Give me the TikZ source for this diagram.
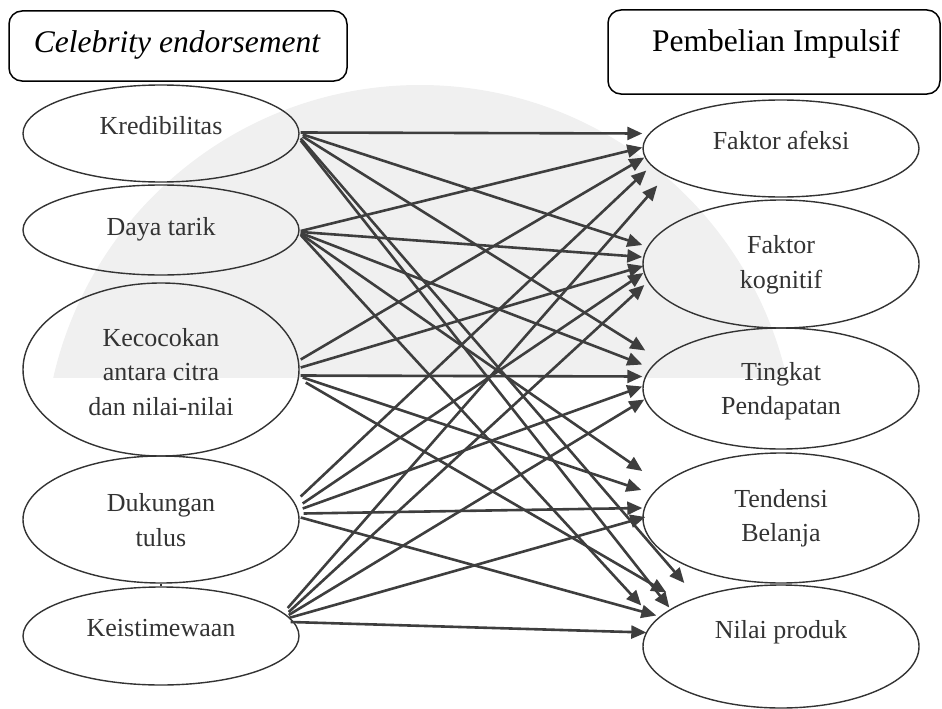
\documentclass[tikz,border=0pt]{standalone}
\usepackage{fontspec}
\setmainfont{Liberation Serif}
\usetikzlibrary{shapes.geometric,arrows.meta,calc}
\definecolor{arr}{HTML}{3E3E3E}
\definecolor{edgec}{HTML}{333333}
\definecolor{wm}{HTML}{F0F0F0}
\begin{document}
\begin{tikzpicture}[x=1pt,y=-1pt,
  oval/.style={ellipse, draw=edgec, line width=1.4pt, minimum width=276pt, inner sep=0pt},
  lbl/.style={font=\fontsize{26}{34.5}\selectfont, text=edgec, align=center, inner sep=0pt},
  ttl/.style={font=\fontsize{31.5}{36}\selectfont, inner sep=0pt},
  tbox/.style={draw=black, line width=1.5pt, rounded corners=13pt},
  link/.style={draw=arr, line width=2.6pt, -{Triangle[length=15pt,width=13pt]}}]
\useasboundingbox (0,0) rectangle (942,709);
% faint watermark background
\begin{scope}
  \clip (0,0) rectangle (942,377);
  \fill[wm] (420,461) circle [radius=376];
\end{scope}
% title boxes
\node[tbox, minimum width=338pt, minimum height=70pt] (lbox) at (178,46) {};
\node[ttl, font=\fontsize{31.5}{36}\selectfont\itshape] (ltitle) at (177,45) {Celebrity endorsement};
\node[tbox, minimum width=332pt, minimum height=84pt] (rbox) at (774,52) {};
\node[ttl] (rtitle) at (776,44) {Pembelian Impulsif};
% left ellipses
\node[oval, minimum height=97pt] (k) at (161,133.5) {};
\node[oval, minimum height=90pt] (d) at (161,230) {};
\node[oval, minimum height=173pt] (c) at (161,369.5) {};
\node[oval, minimum height=127pt] (u) at (161,519.5) {};
\node[oval, minimum height=98pt] (s) at (161,636) {};
% right ellipses
\node[oval, minimum height=97pt] (fa) at (781,148.5) {};
\node[oval, minimum height=128pt] (fk) at (781,264) {};
\node[oval, minimum height=121pt] (tp) at (781,388.5) {};
\node[oval, minimum height=130pt] (tb) at (781,518) {};
\node[oval, minimum height=123pt] (np) at (781,646.5) {};
% labels
\node[lbl] (kt) at (161,126) {Kredibilitas};
\node[lbl] (dt) at (161,229) {Daya tarik};
\node[lbl] (ct) at (161,372) {Kecocokan\\antara citra\\dan nilai-nilai};
\node[lbl] (ut) at (161,520) {Dukungan\\tulus};
\node[lbl] (st) at (161,628) {Keistimewaan};
\node[lbl] (fat) at (781,140) {Faktor afeksi};
\node[lbl] (fkt) at (781,265) {Faktor\\kognitif};
\node[lbl] (tpt) at (781,391) {Tingkat\\Pendapatan};
\node[lbl] (tbt) at (781,518) {Tendensi\\Belanja};
\node[lbl] (npt) at (781,632) {Nilai produk};
% small link between Dukungan and Keistimewaan
\draw[edgec, line width=1.4pt] (u.south) -- (s.north);
% Kredibilitas
\draw[link] ($(k.east)+(1,-1)$) -- ($(fa.west)+(0,-15)$);
\draw[link] ($(k.east)+(3,1)$) -- ($(fk.west)+(0,-19)$);
\draw[link] ($(k.east)+(3,3)$) -- ($(tp.west)+(3,-38)$);
\draw[link] ($(k.east)+(1,5)$) -- ($(tb.west)+(42,65)$);
\draw[link] ($(k.east)+(1,7)$) -- ($(np.west)+(27,-39)$);
% Daya tarik
\draw[link] ($(d.east)+(1,1)$) -- ($(fa.west)+(0,-1)$);
\draw[link] ($(d.east)+(1,2)$) -- ($(fk.west)+(0,-7)$);
\draw[link] ($(d.east)+(1,3)$) -- ($(tp.west)+(0,-24)$);
\draw[link] ($(d.east)+(1,4)$) -- ($(tb.west)+(0,-47)$);
\draw[link] ($(d.east)+(1,5)$) -- ($(np.west)+(-1,-41)$);
% Kecocokan
\draw[link] ($(c.east)+(1,-10)$) -- ($(fa.west)+(2,9)$);
\draw[link] ($(c.east)+(1,-2)$) -- ($(fk.west)+(1,2)$);
\draw[link] ($(c.east)+(1,6)$) -- ($(tp.west)+(0,-12)$);
\draw[link] ($(c.east)+(3,8)$) -- ($(tb.west)+(-1,-28)$);
\draw[link] ($(c.east)+(6,13)$) -- ($(np.west)+(24,-54)$);
% Dukungan tulus
\draw[link] ($(u.east)+(1,-23)$) -- ($(fa.west)+(4,22)$);
\draw[link] ($(u.east)+(3,-16)$) -- ($(fk.west)+(1,9)$);
\draw[link] ($(u.east)+(3,-11)$) -- ($(tp.west)+(0,-2)$);
\draw[link] ($(u.east)+(4,-6)$) -- ($(tb.west)+(0,-10)$);
\draw[link] ($(u.east)+(1,-2)$) -- ($(np.west)+(14,-31)$);
% Keistimewaan
\draw[link] ($(s.east)+(-12,-28)$) -- ($(fa.west)+(15,37)$);
\draw[link] ($(s.east)+(-11,-24)$) -- ($(fk.west)+(2,21)$);
\draw[link] ($(s.east)+(-11,-21)$) -- ($(tp.west)+(2,11)$);
\draw[link] ($(s.east)+(-11,-18)$) -- ($(tb.west)+(3,-1)$);
\draw[link] ($(s.east)+(-9,-14)$) -- ($(np.west)+(4,-14)$);
\end{tikzpicture}
\end{document}
